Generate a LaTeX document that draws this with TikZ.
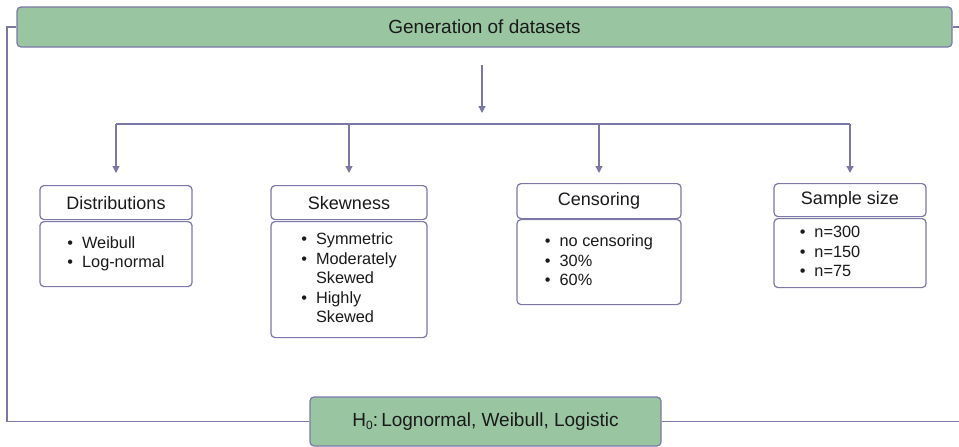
\documentclass[tikz,border=0pt]{standalone}
\usepackage{fontspec}
\setmainfont{Liberation Sans}
\usetikzlibrary{arrows.meta}
\definecolor{edgec}{HTML}{7B78A8}
\definecolor{fillg}{HTML}{99C6A1}
\definecolor{txt}{HTML}{1A1A1A}
\newcommand{\blist}[1]{{\fontsize{16.3}{19.5}\selectfont\begin{tabular}{@{}c@{\hspace{9pt}}l@{}}#1\end{tabular}}}
\begin{document}
\begin{tikzpicture}[x=1pt,y=-1pt,
  greenbox/.style={draw=edgec, fill=fillg, line width=1.2pt, rounded corners=4pt, font=\fontsize{19}{22}\selectfont, text=txt, inner sep=0pt},
  titlebox/.style={draw=edgec, fill=white, line width=1.2pt, rounded corners=4pt, font=\fontsize{18}{20}\selectfont, text=txt, inner sep=0pt, anchor=north},
  bodybox/.style={draw=edgec, fill=white, line width=1.2pt, rounded corners=4pt, text=txt, inner sep=0pt, anchor=north},
  conn/.style={draw=edgec, line width=1.2pt},
  arr/.style={conn, -{Triangle[length=7pt,width=7pt]}}]
\useasboundingbox (0,0) rectangle (959,447);
\fill[white] (0,0) rectangle (959,447);

\node[greenbox, minimum width=935pt, minimum height=40pt] (top) at (484.5,27) {Generation of datasets};
\node[greenbox, minimum width=351pt, minimum height=49pt] (h0) at (485.5,421.5) {H{\fontsize{12}{12}\selectfont\raisebox{-3pt}{0}}:\,Lognormal, Weibull, Logistic};

% titles
\node[titlebox, minimum width=152pt, minimum height=34pt] (dt) at (116,185) {Distributions};
\node[titlebox, minimum width=156pt, minimum height=34pt] (st) at (349,185) {Skewness};
\node[titlebox, minimum width=164pt, minimum height=35pt] (ct) at (599,183) {Censoring};
\node[titlebox, minimum width=152pt, minimum height=33pt] (nt) at (850,183) {Sample size};

% bodies
\node[bodybox, minimum width=152pt, minimum height=65pt] (db) at (116,221)
  {\blist{\textbullet & Weibull\\ \textbullet & Log-normal}};
\node[bodybox, minimum width=156pt, minimum height=116pt] (sb) at (349,221)
  {\blist{\textbullet & Symmetric\\ \textbullet & Moderately\\ & Skewed\\ \textbullet & Highly\\ & Skewed}};
\node[bodybox, minimum width=164pt, minimum height=85pt] (cb) at (599,219)
  {\blist{\textbullet & no censoring\\ \textbullet & 30\%\\ \textbullet & 60\%}};
\node[bodybox, minimum width=152pt, minimum height=69pt] (nb) at (850,218)
  {\hbox{\blist{\textbullet & n=300\\ \textbullet & n=150\\ \textbullet & n=75}\kern40pt}};

% connectors
\coordinate (a1) at (482,65);
\coordinate (a2) at (482,113);
\draw[arr] (a1) -- (a2);
\coordinate (b1) at (116,124);
\coordinate (b4) at (850,124);
\draw[conn] (b1) -- (b4);
\draw[arr, shorten >=12pt] (dt.north |- b1) -- (dt.north);
\draw[arr, shorten >=12pt] (st.north |- b1) -- (st.north);
\draw[arr, shorten >=10pt] (ct.north |- b1) -- (ct.north);
\draw[arr, shorten >=10pt] (nt.north |- b1) -- (nt.north);

\coordinate (L) at (7,27);
\coordinate (R) at (959,27);
\draw[conn] (top.west) -- (top.west -| L) |- (h0.west);
\draw[conn] (top.east) -- (top.east -| R);
\draw[conn] (h0.east) -- (h0.east -| R);
\end{tikzpicture}
\end{document}
